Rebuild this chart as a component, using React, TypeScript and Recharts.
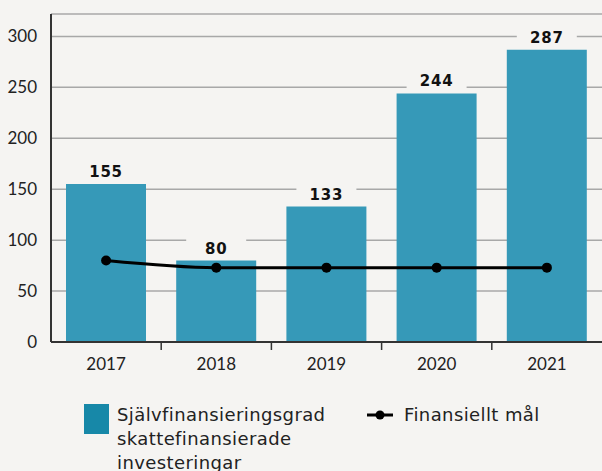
import { ComposedChart, Bar, Line, XAxis, YAxis, CartesianGrid, LabelList } from "recharts";

const years = ["2017", "2018", "2019", "2020", "2021"];
const selfFinancing = [155, 80, 133, 244, 287];
const target = [80, 73, 73, 73, 73];
const yTicks = [0, 50, 100, 150, 200, 250, 300];

const BG = "#f5f4f2";
const BAR = "#3699b8";
const FONT = "Lato, 'DejaVu Sans', sans-serif";

const data = years.map((year, i) => ({
  year,
  value: selfFinancing[i],
  target: target[i]
}));

function BarLabel(props: any) {
  const { x, y, width, value } = props;
  const cx = x + width / 2;
  const cy = y - 12;
  return (
    <g>
      <rect x={cx - 30} y={cy - 11} width={60} height={22} fill={BG} />
      <text
        x={cx}
        y={cy}
        textAnchor="middle"
        dominantBaseline="central"
        fontFamily="'DejaVu Sans', sans-serif"
        fontWeight="bold"
        fontSize={15}
        letterSpacing={0.8}
        fill="#111"
      >
        {value}
      </text>
    </g>
  );
}

function YearTick(props: any) {
  const { x, y, payload, index } = props;
  const half = payload.offset || 0;
  return (
    <g>
      {index < years.length - 1 && (
        <line x1={x + half} x2={x + half} y1={y - 8} y2={y} stroke="#333" strokeWidth={1.5} />
      )}
      <text x={x} y={y + 20} textAnchor="middle" fontFamily={FONT} fontSize={17} fill="#222">
        {payload.value}
      </text>
    </g>
  );
}

function ChartLegend() {
  const text = {
    fontFamily: "'DejaVu Sans', sans-serif",
    fontSize: 18,
    letterSpacing: 0.4,
    color: "#222",
    lineHeight: "24px"
  };
  return (
    <div style={{ position: "absolute", left: 84, top: 403, display: "flex", ...text }}>
      <div style={{ width: 25, height: 30, background: "#1788a8", marginTop: 1 }} />
      <div style={{ marginLeft: 8, width: 250 }}>
        Självfinansieringsgrad
        <br />
        skattefinansierade
        <br />
        investeringar
      </div>
      <svg width={26} height={24}>
        <line x1={0} x2={26} y1={12} y2={12} stroke="#000" strokeWidth={3} />
        <circle cx={13} cy={12} r={4.5} fill="#000" />
      </svg>
      <div style={{ marginLeft: 11 }}>Finansiellt mål</div>
    </div>
  );
}

export default function App() {
  return (
    <div style={{ position: "absolute", left: 0, top: 0, width: 602, height: 471, background: BG }}>
      <ComposedChart
        width={602}
        height={382}
        data={data}
        margin={{ top: 14, right: 0, bottom: 0, left: 0 }}
        barCategoryGap={15}
      >
        <CartesianGrid vertical={false} stroke="#a8a8a8" strokeWidth={1.5} />
        <XAxis
          dataKey="year"
          height={40}
          axisLine={{ stroke: "#333", strokeWidth: 2 }}
          tickLine={false}
          tick={<YearTick />}
          interval={0}
        />
        <YAxis
          width={51}
          domain={[0, 322]}
          ticks={yTicks}
          axisLine={{ stroke: "#333", strokeWidth: 2 }}
          tickLine={false}
          tickMargin={8}
          tick={{ fontFamily: FONT, fontSize: 17, fill: "#222" }}
        />
        <Bar dataKey="value" fill={BAR} isAnimationActive={false}>
          <LabelList dataKey="value" content={<BarLabel />} />
        </Bar>
        <Line
          dataKey="target"
          type="monotone"
          stroke="#000"
          strokeWidth={3}
          dot={{ r: 5, fill: "#000", stroke: "#000", strokeWidth: 0 }}
          isAnimationActive={false}
        />
      </ComposedChart>
      <ChartLegend />
    </div>
  );
}
